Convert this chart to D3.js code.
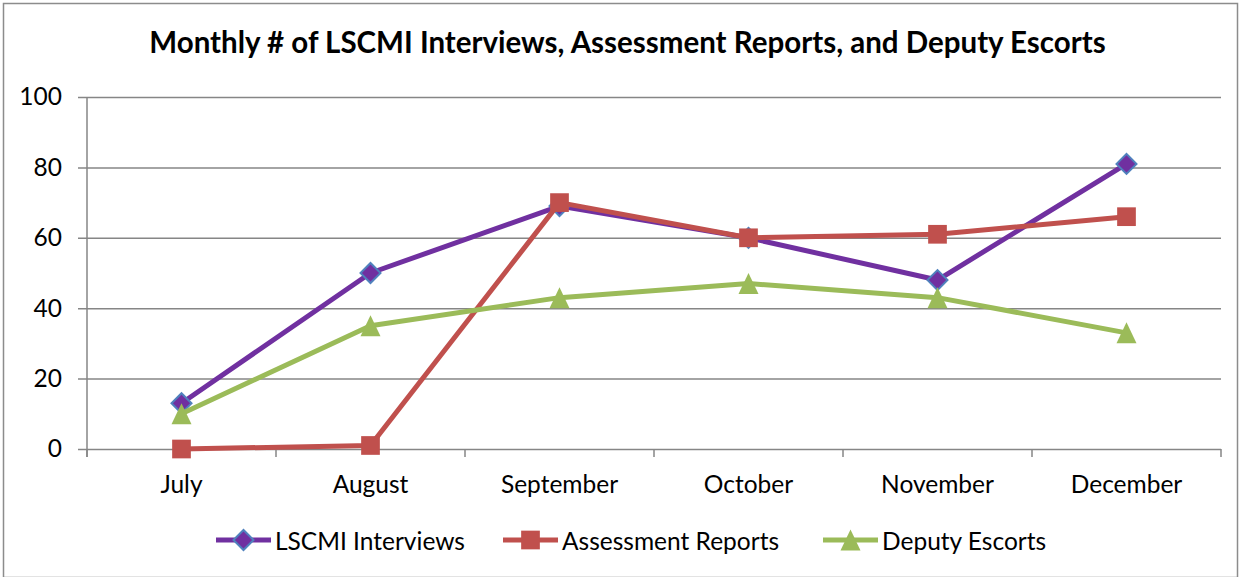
<!DOCTYPE html>
<html>
<head>
<meta charset="utf-8">
<script src="https://cdn.jsdelivr.net/npm/d3@7"></script>
<style>
  html, body { margin: 0; padding: 0; background: #fff; }
  svg { display: block; }
  text { font-family: Lato, "Open Sans", sans-serif; fill: #000; }
</style>
</head>
<body>
<svg id="chart" width="1239" height="577"></svg>
<script>
const title = "Monthly # of LSCMI Interviews, Assessment Reports, and Deputy Escorts";
const months = ["July", "August", "September", "October", "November", "December"];
const lscmiInterviews = [13, 50, 69, 60, 48, 81];
const assessmentReports = [0, 1, 70, 60, 61, 66];
const deputyEscorts = [10, 35, 43, 47, 43, 33];
const seriesNames = ["LSCMI Interviews", "Assessment Reports", "Deputy Escorts"];
const yTicks = [0, 20, 40, 60, 80, 100];

const W = 1239, H = 577;
const plot = { left: 87, right: 1221, top: 97, bottom: 449 };
const gridColor = "#868686";
const labelSize = 24.5;

const series = [
  { name: seriesNames[0], values: lscmiInterviews, color: "#7030a0", marker: "diamond" },
  { name: seriesNames[1], values: assessmentReports, color: "#c0504d", marker: "square" },
  { name: seriesNames[2], values: deputyEscorts, color: "#9bbb59", marker: "triangle" }
];

const svg = d3.select("#chart");

// outer border
svg.append("rect").attr("x", 3.5).attr("y", 3.5).attr("width", W - 5).attr("height", H - 3)
  .attr("fill", "#fff").attr("stroke", "#8c8c8c").attr("stroke-width", 1.5);

const x = d3.scaleBand().domain(months).range([plot.left, plot.right]);
const y = d3.scaleLinear().domain([0, 100]).range([plot.bottom, plot.top]);

// title
svg.append("text").attr("x", 627.5).attr("y", 53).attr("text-anchor", "middle")
  .attr("font-weight", "bold").attr("font-size", 29.5)
  .text(title);

// gridlines (with left tick stubs)
const grid = svg.append("g").attr("transform", `translate(${plot.left - 9},0)`)
  .call(d3.axisRight(y).tickValues(yTicks).tickSize(plot.right - plot.left + 9).tickFormat(""));
grid.select(".domain").remove();
grid.selectAll("line").attr("stroke", gridColor).attr("stroke-width", 1.5);

// y labels
const yAx = svg.append("g").attr("transform", `translate(${plot.left},0)`)
  .call(d3.axisLeft(y).tickValues(yTicks).tickSize(0).tickPadding(25));
yAx.select(".domain").remove();
yAx.selectAll("text").attr("font-size", labelSize).attr("font-family", "Lato");

// y axis line
svg.append("line").attr("x1", plot.left).attr("x2", plot.left)
  .attr("y1", plot.top).attr("y2", plot.bottom + 8)
  .attr("stroke", gridColor).attr("stroke-width", 1.5);

// x axis labels
const xAx = svg.append("g").attr("transform", `translate(0,${plot.bottom})`)
  .call(d3.axisBottom(x).tickSize(0).tickPadding(26.5));
xAx.select(".domain").remove();
xAx.selectAll("text").attr("font-size", labelSize).attr("font-family", "Lato");

// x boundary ticks
const bounds = months.map(m => x(m)).concat([x.range()[1]]);
svg.append("g").selectAll("line").data(bounds).join("line")
  .attr("x1", d => d).attr("x2", d => d)
  .attr("y1", plot.bottom).attr("y2", plot.bottom + 8)
  .attr("stroke", gridColor).attr("stroke-width", 1.5);

const cx = m => x(m) + x.bandwidth() / 2;

function drawMarker(g, type, color) {
  if (type === "diamond") {
    g.append("path").attr("d", d3.symbol(d3.symbolSquare, 200)())
      .attr("transform", "rotate(45)")
      .attr("fill", color).attr("stroke", "#4f81bd").attr("stroke-width", 2);
  } else if (type === "square") {
    g.append("path").attr("d", d3.symbol(d3.symbolSquare, 350)()).attr("fill", color);
  } else {
    g.append("path").attr("d", "M0,-10.5L10,10.5L-10,10.5Z").attr("fill", color);
  }
}

const line = d3.line().x((d, i) => cx(months[i])).y(d => y(d));

series.forEach(s => {
  const g = svg.append("g");
  g.append("path").attr("d", line(s.values)).attr("fill", "none")
    .attr("stroke", s.color).attr("stroke-width", 5).attr("stroke-linejoin", "round");
  s.values.forEach((v, i) => {
    const mg = g.append("g").attr("transform", `translate(${cx(months[i])},${y(v)})`);
    drawMarker(mg, s.marker, s.color);
  });
});

// legend
const legendY = 540;
const legendStarts = [216, 503, 823];
series.forEach((s, i) => {
  const g = svg.append("g").attr("transform", `translate(${legendStarts[i]},${legendY})`);
  g.append("line").attr("x1", 0).attr("x2", 55).attr("stroke", s.color).attr("stroke-width", 5);
  const mg = g.append("g").attr("transform", "translate(27.5,0)");
  drawMarker(mg, s.marker, s.color);
  g.append("text").attr("x", 59).attr("y", 0).attr("dominant-baseline", "central")
    .attr("font-size", labelSize).text(s.name);
});
</script>
</body>
</html>
